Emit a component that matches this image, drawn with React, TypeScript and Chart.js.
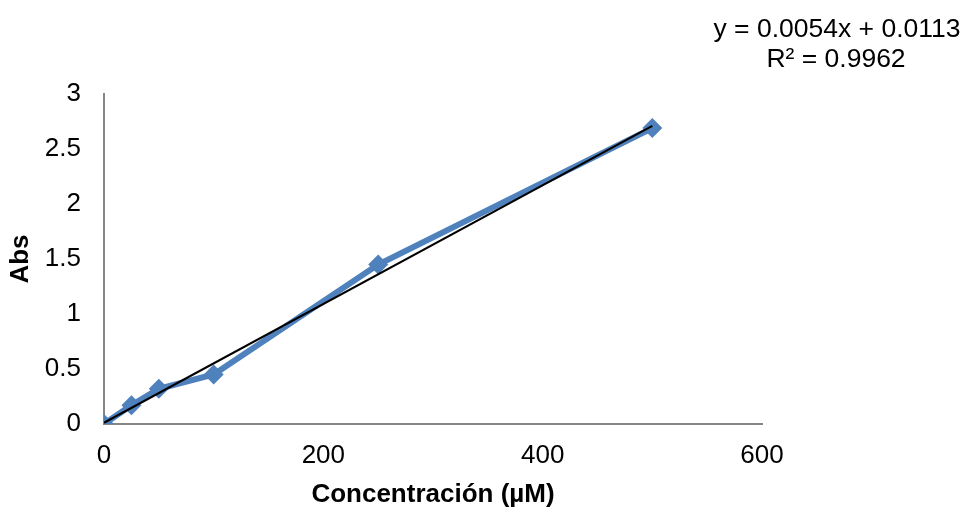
import React, { useEffect, useRef } from "react";
import { Chart, registerables } from "chart.js";

Chart.register(...registerables);

// Calibration data: concentration (µM) vs absorbance
const concentrations = [0, 25, 50, 100, 250, 500];
const absorbances = [0, 0.17, 0.32, 0.45, 1.45, 2.69];

// Linear fit
const slope = 0.0054;
const intercept = 0.0113;
const fitRange = [0, 500];
const equationLines = ["y = 0.0054x + 0.0113", "R² = 0.9962"];

const xTicks = [0, 200, 400, 600];
const yTicks = [0, 0.5, 1, 1.5, 2, 2.5, 3];

const FONT = "'Liberation Sans', Arial, sans-serif";

const equationPlugin = {
  id: "equationLabel",
  afterDraw(chart: any) {
    const ctx = chart.ctx;
    ctx.save();
    ctx.fillStyle = "#000";
    ctx.font = `26.5px ${FONT}`;
    ctx.textAlign = "center";
    ctx.textBaseline = "middle";
    ctx.fillText(equationLines[0], 837, 30);
    ctx.fillText(equationLines[1], 836, 60);
    ctx.restore();
  },
};

export default function App() {
  const canvasRef = useRef<HTMLCanvasElement>(null);

  useEffect(() => {
    document.body.style.margin = "0";
    const canvas = canvasRef.current!;
    const chart = new Chart(canvas, {
      type: "scatter",
      data: {
        datasets: [
          {
            label: "Abs",
            data: concentrations.map((x, i) => ({ x, y: absorbances[i] })),
            showLine: true,
            borderColor: "#4F81BD",
            backgroundColor: "#4F81BD",
            borderWidth: 6,
            pointStyle: "rectRot",
            pointRadius: 10,
            pointBorderWidth: 0,
            order: 2,
          },
          {
            label: "Lineal",
            data: fitRange.map((x) => ({ x, y: slope * x + intercept })),
            showLine: true,
            borderColor: "#000000",
            borderWidth: 2,
            pointRadius: 0,
            order: 1,
          },
        ],
      },
      options: {
        animation: false,
        responsive: false,
        layout: { padding: { top: 94, right: 201, left: 0, bottom: 0 } },
        plugins: {
          legend: { display: false },
          tooltip: { enabled: false },
        },
        scales: {
          x: {
            type: "linear",
            min: 0,
            max: 600,
            afterBuildTicks: (scale: any) => {
              scale.ticks = xTicks.map((v) => ({ value: v }));
            },
            afterFit: (scale: any) => {
              scale.height = 84;
            },
            grid: { display: false, drawTicks: false },
            border: { color: "#868686", width: 2 },
            ticks: {
              color: "#000",
              font: { family: FONT, size: 26 },
              padding: 16,
              maxRotation: 0,
              callback: (v: any) => String(v),
            },
            title: {
              display: true,
              text: "Concentración (µM)",
              color: "#000",
              font: { family: FONT, size: 26, weight: "bold", lineHeight: 1 },
              padding: { top: 2, bottom: 0 },
            },
          },
          y: {
            type: "linear",
            min: 0,
            max: 3,
            afterBuildTicks: (scale: any) => {
              scale.ticks = yTicks.map((v) => ({ value: v }));
            },
            afterFit: (scale: any) => {
              scale.width = 104;
            },
            grid: { display: false, drawTicks: false },
            border: { color: "#868686", width: 2 },
            ticks: {
              color: "#000",
              font: { family: FONT, size: 26 },
              padding: 23,
              callback: (v: any) => String(v),
            },
            title: {
              display: true,
              text: "Abs",
              color: "#000",
              font: { family: FONT, size: 26, weight: "bold" },
              padding: { top: 5, bottom: 0 },
            },
          },
        },
      },
      plugins: [equationPlugin],
    } as any);
    return () => chart.destroy();
  }, []);

  return (
    <div style={{ position: "relative", width: 963, height: 508 }}>
      <canvas ref={canvasRef} width={963} height={508} />
    </div>
  );
}
